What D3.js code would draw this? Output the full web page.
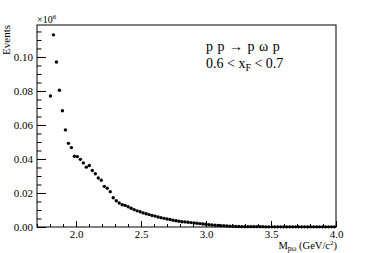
<!DOCTYPE html>
<html>
<head>
<meta charset="utf-8">
<script src="https://cdn.jsdelivr.net/npm/d3@7"></script>
<style>
  body { margin: 0; background: #fff; }
  svg { display: block; }
  text { font-family: "Liberation Serif", "DejaVu Serif", serif; fill: #000; }
</style>
</head>
<body>
<svg id="chart"></svg>
<script>
// histogram: 100 bins over 1.7 - 4.0 GeV/c^2, first filled bin is #4
var xMin = 1.7, xMax = 4.0, nBins = 100, firstBin = 4;
var xTicks = [2.0, 2.5, 3.0, 3.5, 4.0];
var yTicks = [0.00, 0.02, 0.04, 0.06, 0.08, 0.10];

// events (x10^6) per bin
var counts = [
  0.0770, 0.1130, 0.0970, 0.0804, 0.0684, 0.0571, 0.0492, 0.0467, 0.0416, 0.0414,
  0.0398, 0.0377, 0.0352, 0.0362, 0.0332, 0.0313, 0.0288, 0.0275, 0.0239, 0.0228,
  0.0208, 0.0172, 0.0154, 0.0141, 0.0131, 0.0127, 0.0119, 0.0110, 0.0102, 0.0095,
  0.0090, 0.0083, 0.0078, 0.0073, 0.0068, 0.0064, 0.0059, 0.0055, 0.0051, 0.0047,
  0.0044, 0.0040, 0.0037, 0.0034, 0.0031, 0.0030, 0.0028, 0.0026, 0.0024, 0.0022,
  0.0020, 0.0018, 0.0016, 0.0014, 0.0012, 0.0010, 0.0009, 0.0008, 0.0007, 0.0006,
  0.0005, 0.0004, 0.0003, 0.0003, 0.0002, 0.0002, 0.0002, 0.0002, 0.0002, 0.0002,
  0.0002, 0.0002, 0.0001, 0.0001, 0.0001, 0.0001, 0.0001, 0.0001, 0.0001, 0.0001,
  0.0001, 0.0001, 0.0001, 0.0001, 0.0001, 0.0001, 0.0001, 0.0001, 0.0001, 0.0001,
  0.0001, 0.0001, 0.0001, 0.0001, 0.0001, 0.0001
];

var W = 374, H = 253;
var margin = { top: 25, right: 38, bottom: 26, left: 37 };
var width = W - margin.left - margin.right,
    height = H - margin.top - margin.bottom;

var svg = d3.select("#chart").attr("width", W).attr("height", H);
var g = svg.append("g").attr("transform", "translate(" + margin.left + "," + margin.top + ")");

var binW = (xMax - xMin) / nBins;
var points = counts.map(function (v, i) {
  return { x: xMin + (firstBin + i + 0.5) * binW, y: v };
});

var x = d3.scaleLinear().domain([xMin, xMax]).range([0, width]);
var y = d3.scaleLinear().domain([0, 0.1188]).range([height, 0]);

// frame
g.append("rect")
  .attr("x", 0).attr("y", 0)
  .attr("width", width).attr("height", height)
  .attr("fill", "none").attr("stroke", "#000").attr("stroke-width", 1);

// y axis, ticks pointing inward
var yMinor = d3.range(0, 0.1188, 0.005);
g.append("g")
  .call(d3.axisRight(y).tickValues(yMinor).tickSize(4.5).tickFormat(""))
  .call(function (s) { s.select(".domain").remove(); });
g.append("g")
  .call(d3.axisRight(y).tickValues(yTicks).tickSize(9).tickFormat(""))
  .call(function (s) { s.select(".domain").remove(); });
g.append("g")
  .call(d3.axisLeft(y).tickValues(yTicks).tickSize(0).tickPadding(4).tickFormat(d3.format(".2f")))
  .call(function (s) {
    s.select(".domain").remove();
    s.selectAll("text").style("font-size", "11px").attr("font-family", null);
  });

// x axis
var xMinor = d3.range(1.7, 4.001, 0.1);
g.append("g").attr("transform", "translate(0," + height + ")")
  .call(d3.axisTop(x).tickValues(xMinor).tickSize(3).tickFormat(""))
  .call(function (s) { s.select(".domain").remove(); });
g.append("g").attr("transform", "translate(0," + height + ")")
  .call(d3.axisTop(x).tickValues(xTicks).tickSize(6).tickFormat(""))
  .call(function (s) { s.select(".domain").remove(); });
g.append("g").attr("transform", "translate(0," + height + ")")
  .call(d3.axisBottom(x).tickValues(xTicks).tickSize(0).tickPadding(3).tickFormat(d3.format(".1f")))
  .call(function (s) {
    s.select(".domain").remove();
    s.selectAll("text").style("font-size", "11px").attr("font-family", null);
  });

// markers
g.selectAll("circle.pt")
  .data(points)
  .enter()
  .append("circle")
  .attr("class", "pt")
  .attr("cx", function (d) { return x(d.x); })
  .attr("cy", function (d) { return y(d.y); })
  .attr("r", 1.7)
  .attr("fill", "#000");

// exponent
var ex = svg.append("text").attr("x", margin.left).attr("y", 23).style("font-size", "10px");
ex.append("tspan").text("\u00d710");
ex.append("tspan").attr("dy", -4).style("font-size", "7px").text("6");

// axis titles
svg.append("text")
  .attr("transform", "translate(10," + margin.top + ") rotate(-90)")
  .attr("text-anchor", "end")
  .style("font-size", "11px")
  .text("Events");

var xt = svg.append("text")
  .attr("x", margin.left + width + 1).attr("y", 249)
  .attr("text-anchor", "end")
  .style("font-size", "10.5px");
xt.append("tspan").text("M");
xt.append("tspan").attr("dy", 2).style("font-size", "7.5px").text("p\u03c9");
xt.append("tspan").attr("dy", -2).text(" (GeV/c");
xt.append("tspan").attr("dy", -4).style("font-size", "7px").text("2");
xt.append("tspan").attr("dy", 4).text(")");

// legend text
svg.append("text")
  .attr("x", 206).attr("y", 51)
  .style("font-size", "14px")
  .style("word-spacing", "1px")
  .text("p p \u2192 p \u03c9 p");
var l2 = svg.append("text")
  .attr("x", 206).attr("y", 68)
  .style("font-size", "14px");
l2.append("tspan").text("0.6 < x");
l2.append("tspan").attr("dy", 3).style("font-size", "10px").text("F");
l2.append("tspan").attr("dy", -3).text(" < 0.7");
</script>
</body>
</html>
